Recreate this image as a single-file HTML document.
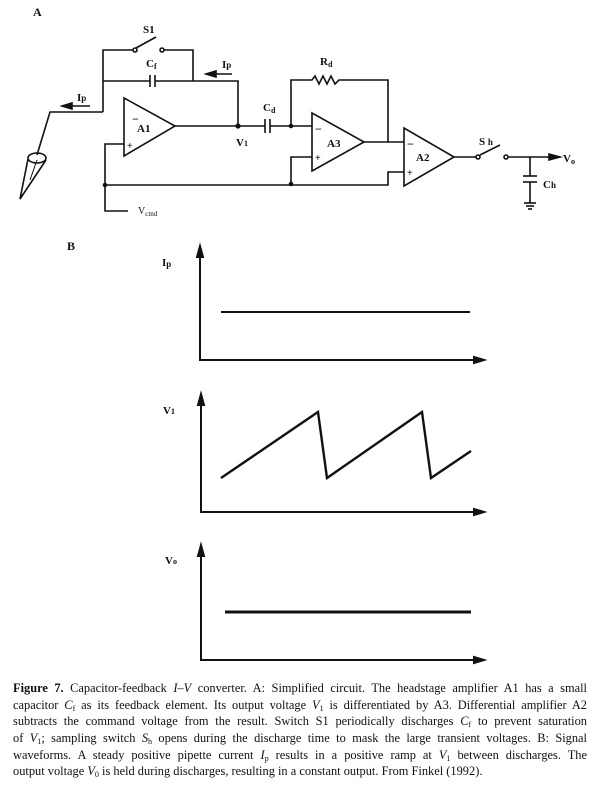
<!DOCTYPE html>
<html><head><meta charset="utf-8"><style>
body{margin:0;background:#fff;width:616px;height:790px;overflow:hidden;position:relative;font-family:"Liberation Serif",serif;}
svg{position:absolute;left:0;top:0}
.cap{position:absolute;left:13px;top:680px;width:574px;font-size:12.4px;line-height:16.7px;color:#111}
.cap div{text-align:justify;text-align-last:justify;white-space:nowrap;height:16.7px}
.cap div.l{text-align-last:left}
.cap sub{font-size:8px;line-height:0;vertical-align:-2px}
</style></head><body>
<svg width="616" height="680" viewBox="0 0 616 680" font-family="Liberation Serif, serif" font-weight="bold" fill="none" stroke="#111" stroke-width="1.6">
<g fill="#111" stroke="none" font-size="12">
<text x="33" y="16">A</text>
<text x="67" y="250">B</text>
<text x="143" y="33" font-size="11">S1</text>
<text x="146" y="67" font-size="11">C<tspan font-size="8" dy="2">f</tspan></text>
<text x="222" y="68" font-size="11">I<tspan font-size="9">p</tspan></text>
<text x="77" y="101" font-size="11">I<tspan font-size="9">p</tspan></text>
<text x="137" y="132" font-size="11">A1</text>
<text x="236" y="146" font-size="11">V<tspan font-size="8">1</tspan></text>
<text x="263" y="111" font-size="11">C<tspan font-size="8" dy="2">d</tspan></text>
<text x="320" y="65" font-size="11">R<tspan font-size="8" dy="2">d</tspan></text>
<text x="327" y="147" font-size="11">A3</text>
<text x="416" y="161" font-size="11">A2</text>
<text x="479" y="145" font-size="11">S <tspan font-size="9">h</tspan></text>
<text x="563" y="162" font-size="11">V<tspan font-size="8" dy="2">o</tspan></text>
<text x="543" y="188" font-size="11">C<tspan font-size="9">h</tspan></text>
<text x="138" y="214" font-size="10" font-weight="normal">V<tspan font-size="7" dy="2">cmd</tspan></text>
<text x="162" y="266" font-size="11">I<tspan font-size="9" dy="1">p</tspan></text>
<text x="163" y="414" font-size="11">V<tspan font-size="8">1</tspan></text>
<text x="165" y="564" font-size="11">V<tspan font-size="8">o</tspan></text>
<text x="132" y="123" font-size="12">−</text><text x="127" y="149" font-size="10">+</text>
<text x="315" y="133" font-size="12">−</text><text x="315" y="161" font-size="10">+</text>
<text x="407" y="148" font-size="12">−</text><text x="407" y="176" font-size="10">+</text>
</g>
<polyline points="103,112 50,112 37,155"/>
<ellipse cx="37" cy="158" rx="9" ry="5"/>
<polyline points="28,159 20,199 46,160"/>
<line x1="30" y1="180" x2="37" y2="160" stroke-width="1"/>
<line x1="63" y1="106" x2="90" y2="106"/><polygon points="62,106 72,103 72,109" fill="#111"/>
<line x1="207" y1="74" x2="232" y2="74"/><polygon points="206,74 216,71 216,77" fill="#111"/>
<polyline points="103,112 103,50 133,50"/><circle cx="135" cy="50" r="2"/><line x1="136" y1="48" x2="156" y2="37"/><circle cx="162" cy="50" r="2"/><polyline points="164,50 193,50 193,81"/>
<polyline points="103,81 150,81"/><line x1="150" y1="75" x2="150" y2="87"/><line x1="155" y1="75" x2="155" y2="87"/><polyline points="155,81 238,81 238,126"/>
<polygon points="124,98 124,156 175,126"/>
<polyline points="124,144 105,144 105,211 128,211"/>
<line x1="175" y1="126" x2="265" y2="126"/>
<line x1="265" y1="119" x2="265" y2="133"/><line x1="270" y1="119" x2="270" y2="133"/>
<line x1="270" y1="126" x2="312" y2="126"/>
<circle cx="238" cy="126" r="1.8" fill="#111"/><circle cx="291" cy="126" r="1.5" fill="#111"/>
<polyline points="291,126 291,80 312,80 315,76 319,84 323,76 327,84 331,76 335,84 339,80 388,80 388,142"/>
<polygon points="312,113 312,171 364,142"/>
<polyline points="312,157 291,157 291,184"/>
<line x1="364" y1="142" x2="404" y2="142"/>
<polyline points="105,185 388,185 388,172 404,172"/>
<circle cx="105" cy="185" r="1.5" fill="#111"/><circle cx="291" cy="184" r="1.5" fill="#111"/>
<polygon points="404,128 404,186 454,157"/>
<line x1="454" y1="157" x2="476" y2="157"/><circle cx="478" cy="157" r="2"/><line x1="480" y1="155" x2="500" y2="145"/><circle cx="506" cy="157" r="2"/>
<line x1="508" y1="157" x2="552" y2="157"/><polygon points="560,157 549,154 549,160" fill="#111"/>
<polyline points="530,157 530,176"/><line x1="523" y1="176" x2="537" y2="176"/><line x1="523" y1="182" x2="537" y2="182"/>
<polyline points="530,182 530,203"/><line x1="524" y1="203" x2="536" y2="203"/><line x1="526" y1="206" x2="534" y2="206"/><line x1="528" y1="209" x2="532" y2="209"/>
<g stroke-width="2">
<polyline points="200,252 200,360 480,360"/><polygon points="200,246 197,257 203,257" fill="#111"/><polygon points="484,360 474,357 474,363" fill="#111"/>
<line x1="221" y1="312" x2="470" y2="312"/>
<polyline points="201,400 201,512 480,512"/><polygon points="201,394 198,405 204,405" fill="#111"/><polygon points="484,512 474,509 474,515" fill="#111"/>
<polyline points="221,478 318,412 327,478 422,412 431,478 471,451" stroke-width="2.4"/>
<polyline points="201,552 201,660 480,660"/><polygon points="201,545 198,556 204,556" fill="#111"/><polygon points="484,660 474,657 474,663" fill="#111"/>
<line x1="225" y1="612" x2="471" y2="612" stroke-width="3"/>
</g>
</svg>
<div class="cap">
<div><b>Figure 7.</b> Capacitor-feedback <i>I–V</i> converter. A: Simplified circuit. The headstage amplifier A1 has a small</div>
<div>capacitor <i>C</i><sub>f</sub> as its feedback element. Its output voltage <i>V</i><sub>1</sub> is differentiated by A3. Differential amplifier A2</div>
<div>subtracts the command voltage from the result. Switch S1 periodically discharges <i>C</i><sub>f</sub> to prevent saturation</div>
<div>of <i>V</i><sub>1</sub>; sampling switch <i>S</i><sub>h</sub> opens during the discharge time to mask the large transient voltages. B: Signal</div>
<div>waveforms. A steady positive pipette current <i>I</i><sub>p</sub> results in a positive ramp at <i>V</i><sub>1</sub> between discharges. The</div>
<div class="l">output voltage <i>V</i><sub>0</sub> is held during discharges, resulting in a constant output. From Finkel (1992).</div>
</div>
</body></html>
